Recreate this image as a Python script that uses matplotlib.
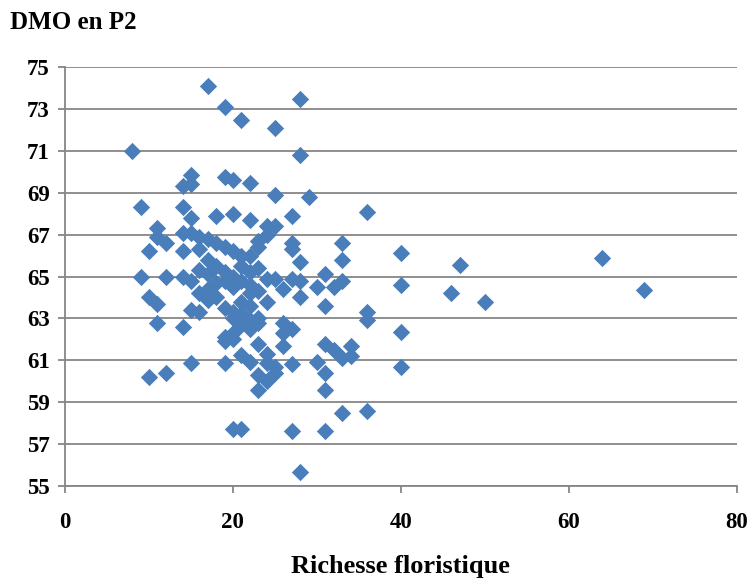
import matplotlib.pyplot as plt
import numpy as np

# Richesse floristique (x) et DMO en P2 (y)
richesse = [
    17, 19, 21, 28, 25, 8, 28,
    15, 14, 15, 19, 20, 22, 25, 29, 36,
    9, 14, 15, 18, 20, 22, 27,
    11, 11, 12, 14, 15, 16, 17, 18, 19, 24, 25, 23, 23, 24, 20, 21,
    27, 27, 28, 33, 33, 40, 10, 14, 16, 17, 18, 19, 22,
    9, 12, 14, 15, 16, 17, 18, 20, 21, 22, 23, 22, 23, 24, 21,
    25, 26, 27, 28, 28, 31, 30, 32, 33, 47, 64, 40, 46, 50, 69,
    10, 11, 15, 16, 16, 17, 17, 18, 19, 20, 20, 21, 21, 22, 22, 24,
    31, 36, 36, 40, 20, 19, 23,
    11, 14, 19, 20, 21, 22, 22, 23, 26, 27, 26, 19, 20, 23, 26, 31, 34, 32,
    10, 12, 15, 19, 21, 22, 24, 25, 27, 30, 33, 34, 40, 23, 24, 23,
    31, 31, 25, 24,
    33, 36, 20, 21, 27, 31, 28,
]
dmo = [
    74.1, 73.1, 72.5, 73.5, 72.1, 71.0, 70.8,
    69.85, 69.3, 69.4, 69.75, 69.6, 69.45, 68.9, 68.8, 68.1,
    68.3, 68.3, 67.8, 67.9, 68.0, 67.7, 67.9,
    67.3, 66.9, 66.6, 67.1, 67.1, 66.9, 66.8, 66.6, 66.4, 67.4, 67.4, 66.7, 66.4, 67.0, 66.2, 66.0,
    66.6, 66.3, 65.7, 66.6, 65.8, 66.1, 66.2, 66.2, 66.3, 65.8, 65.5, 65.2, 66.0,
    65.0, 65.0, 65.0, 64.8, 65.3, 65.1, 64.7, 65.0, 64.8, 65.2, 65.4, 64.6, 64.3, 64.9, 65.5,
    64.9, 64.4, 64.9, 64.8, 64.0, 65.1, 64.5, 64.5, 64.8, 65.55, 65.9, 64.6, 64.2, 63.8, 64.35,
    64.0, 63.7, 63.4, 63.3, 64.2, 63.9, 64.4, 64.0, 63.5, 63.3, 63.0, 63.2, 63.8, 64.2, 63.6, 63.8,
    63.6, 63.3, 62.9, 62.35, 64.5, 64.8, 63.0,
    62.8, 62.6, 62.1, 62.3, 62.7, 62.5, 62.9, 62.8, 62.8, 62.5, 62.3, 61.9, 62.0, 61.8, 61.7, 61.8, 61.7, 61.5,
    60.2, 60.4, 60.85, 60.85, 61.25, 60.9, 60.85, 60.7, 60.8, 60.9, 61.1, 61.2, 60.7, 60.3, 60.0, 59.6,
    60.4, 59.6, 60.4, 61.3,
    58.5, 58.6, 57.7, 57.7, 57.6, 57.6, 55.65,
]

x_ticks = [0, 20, 40, 60, 80]
y_ticks = np.arange(55, 76, 2)

plt.rcParams['font.family'] = ['Liberation Serif', 'DejaVu Serif']

fig = plt.figure(figsize=(7.55, 5.84), dpi=100)
ax = fig.add_axes([0.086, 0.168, 0.89, 0.717])

ax.scatter(richesse, dmo, marker='D', s=78, color='#4A7EBB', linewidths=0, zorder=3)

ax.set_xlim(0, 80)
ax.set_ylim(55, 75)
ax.set_xticks(x_ticks)
ax.set_yticks(y_ticks)
ax.yaxis.grid(True, color='#868686', linewidth=1.3)
ax.set_axisbelow(True)

for side in ['top', 'right']:
    ax.spines[side].set_visible(False)
for side in ['left', 'bottom']:
    ax.spines[side].set_color('#868686')
    ax.spines[side].set_linewidth(1.3)

ax.tick_params(axis='both', colors='#868686', width=1.3, length=5, direction='out')
ax.tick_params(axis='x', pad=14)
ax.tick_params(axis='y', pad=6)
for lab in ax.get_xticklabels() + ax.get_yticklabels():
    lab.set_color('black')
    lab.set_fontweight('bold')
    lab.set_fontsize(16.5)

ax.set_xlabel("Richesse floristique", fontsize=19, fontweight='bold', labelpad=16)
fig.text(0.013, 0.962, "DMO en P2", fontsize=18, fontweight='bold', va='center', ha='left')

fig.savefig("out.png", dpi=100)
